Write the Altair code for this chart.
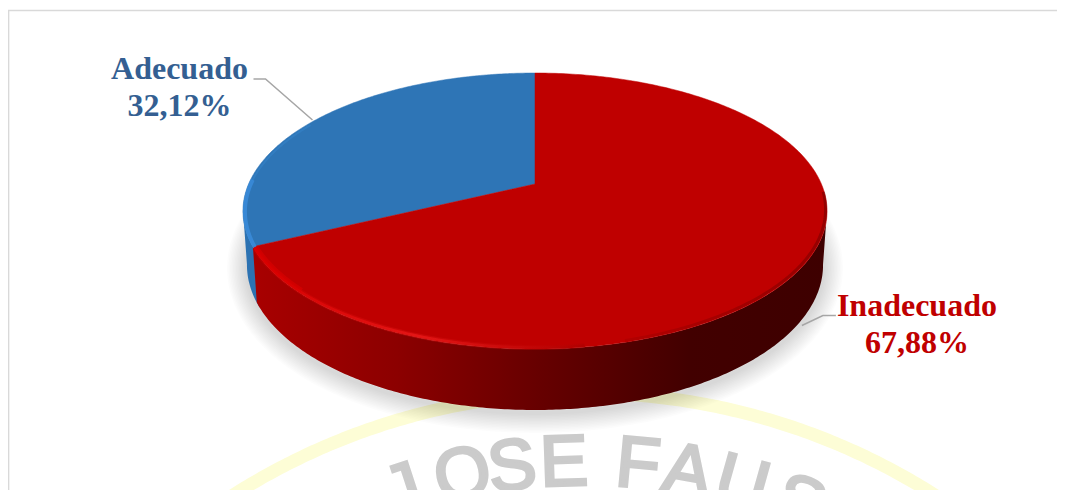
import numpy as np
import pandas as pd
import altair as alt

# ---- chart values ----
categories = ["Inadecuado", "Adecuado"]
shares = [67.88, 32.12]
share_labels = ["67,88%", "32,12%"]
label_colors = ["#c00000", "#345f92"]
slice_colors = ["#bf0000", "#2e75b6"]
watermark_letters = list("JOSE FAUS")
watermark_steps = [-184, -122, -72, -20, None, 54, 104, 160, 221]

# ---- projection of the tilted pie (pixel space of the page) ----
W, H = 1051, 482
CX, APEX_Y, K, A, P = 535.0, 184.0, 132.7, 286.4, 0.1957
ELL_CY, LOW_CY = 211.0, 265.0
LOW_XS, LOW_YS = 288.0 / 292.0, 145.0 / 138.0


def rim(deg):
    t = np.radians(np.asarray(deg, dtype=float))
    u, v = np.sin(t), np.cos(t)
    d = 1 + P * v
    return CX + A * u / d, APEX_Y - K * v / d


def low(x, y):
    return CX + (x - CX) * LOW_XS, LOW_CY + (y - ELL_CY) * LOW_YS


def frame(x, y):
    return pd.DataFrame({"x": x, "y": y, "i": np.arange(len(x))})


xs = alt.Scale(domain=[8, 8 + W], range=[0, W])
ys = alt.Scale(domain=[8, 8 + H], range=[0, H])
X = alt.X("x:Q", scale=xs, axis=None)
Y = alt.Y("y:Q", scale=ys, axis=None)
ORD = alt.Order("i:Q")


def path(df, **mark):
    return alt.Chart(df).mark_line(clip=True, **mark).encode(x=X, y=Y, order=ORD)


def arc_pts(a, b, n=160):
    return rim(np.linspace(a, b, n))


red_end = shares[0] / sum(shares) * 360

# top slices
rx, ry = arc_pts(0, red_end, 300)
red_top = frame(np.r_[CX, rx, CX], np.r_[APEX_Y, ry, APEX_Y])
bx, by = arc_pts(red_end, 360)
blue_top = frame(np.r_[CX, bx, CX], np.r_[APEX_Y, by, APEX_Y])

# walls
wx, wy = arc_pts(101, red_end, 240)
lx, ly = low(wx, wy)
red_wall = frame(np.r_[wx, lx[::-1]], np.r_[wy, ly[::-1]])
wx2, wy2 = arc_pts(red_end - 2, 259, 60)
lx2, ly2 = low(wx2, wy2)
blue_wall = frame(np.r_[wx2, lx2[::-1]], np.r_[wy2, ly2[::-1]])

# shadow outline
sx, sy = arc_pts(0, 360, 240)
slx, sly = low(sx, sy)
shadow = frame(slx, sly + 3)

# bevels
hx, hy = arc_pts(172, red_end - 1, 120)
red_bevel = frame(hx, hy - 1.5)
cx_, cy_ = arc_pts(225, red_end - 1, 60)
red_corner = frame(cx_ + 1.5, cy_ - 2.5)
dx_, dy_ = arc_pts(94, 165, 120)
dark_bevel = frame(dx_ - 1.5, dy_ - 1.5)
bbx, bby = arc_pts(red_end, 272, 100)
blue_bevel = frame(bbx + 2, bby + 0.5)
bcx, bcy = arc_pts(272, 300, 60)
blue_bevel_thin = frame(bcx + 1.5, bcy + 1.5)

# watermark ring
ring_cx, ring_cy, ring_r = 584.0, 1047.0, 654.0
ang = np.radians(np.linspace(-36, 36, 200))
ring = frame(ring_cx + ring_r * np.sin(ang), ring_cy - ring_r * np.cos(ang))

letter_r = 584.0
letters = pd.DataFrame(
    [
        {
            "ch": c,
            "x": ring_cx + letter_r * np.sin(s / letter_r),
            "y": ring_cy - letter_r * np.cos(s / letter_r),
            "rot": (np.degrees(s / letter_r)) % 360,
        }
        for c, s in zip(watermark_letters, watermark_steps)
        if s is not None
    ]
)

# labels, anchored on each slice's mid angle
mid_red = red_end / 2
mid_blue = red_end + (360 - red_end) / 2
ax_b, ay_b = rim(mid_blue)
rx_m, ry_m = rim(mid_red)
ax_r, ay_r = low(rx_m, ry_m)
leader_b = frame([ax_b - 3, ax_b - 50, ax_b - 62], [ay_b, ay_b - 41, ay_b - 41])
leader_r = frame([ax_r, ax_r + 21, ax_r + 34], [ay_r + 6, ay_r - 4, ay_r - 4])

label_rows = pd.DataFrame(
    {
        "text": [categories[1], share_labels[1], categories[0], share_labels[0]],
        "x": [ax_b - 136, ax_b - 136, ax_r + 115, ax_r + 115],
        "y": [ay_b - 41, ay_b - 4, ay_r - 3.5, ay_r + 33.5],
        "color": [label_colors[1], label_colors[1], label_colors[0], label_colors[0]],
    }
)


def label_layer(color):
    d = label_rows[label_rows.color == color]
    return (
        alt.Chart(d)
        .mark_text(
            font="Liberation Serif",
            fontWeight="bold",
            fontSize=32,
            align="center",
            baseline="alphabetic",
            color=color,
        )
        .encode(x=X, y=Y, text="text:N")
    )


wall_red_fill = alt.Gradient(
    gradient="linear",
    x1=0, x2=1, y1=0, y2=0,
    stops=[
        alt.GradientStop(offset=0.0, color="#a80000"),
        alt.GradientStop(offset=0.25, color="#8c0000"),
        alt.GradientStop(offset=0.5, color="#660000"),
        alt.GradientStop(offset=0.76, color="#420000"),
        alt.GradientStop(offset=1.0, color="#3e0000"),
    ],
)
bevel_red = alt.Gradient(
    gradient="linear",
    x1=0, x2=1, y1=0, y2=0,
    stops=[
        alt.GradientStop(offset=0.0, color="#d80000"),
        alt.GradientStop(offset=0.5, color="#e81818"),
        alt.GradientStop(offset=1.0, color="#b00000"),
    ],
)
bevel_dark = alt.Gradient(
    gradient="linear",
    x1=1, x2=0, y1=0, y2=0,
    stops=[
        alt.GradientStop(offset=0.0, color="#6a0000"),
        alt.GradientStop(offset=1.0, color="#a60000"),
    ],
)

layers = [
    alt.Chart(pd.DataFrame({"a": [0]})).mark_rule(color="#d9d9d9", strokeWidth=1.5).encode(
        x=alt.value(0.6), y=alt.value(2), y2=alt.value(H)
    ),
    alt.Chart(pd.DataFrame({"a": [0]})).mark_rule(color="#d9d9d9", strokeWidth=1.5).encode(
        x=alt.value(0), x2=alt.value(W - 2), y=alt.value(2.6)
    ),
    path(ring, color="#fdfdd6", strokeWidth=13),
    alt.Chart(letters)
    .mark_text(
        font="Liberation Sans",
        fontSize=72,
        color="#cbcbcb",
        stroke="#cbcbcb",
        strokeWidth=3,
        clip=True,
        align="center",
        baseline="middle",
    )
    .encode(x=X, y=Y, text="ch:N", angle=alt.Angle("rot:Q", scale=None)),
]
for w in range(40, 2, -3):
    layers.append(path(shadow, color="#000000", strokeWidth=w, opacity=0.012))
layers += [
    path(blue_wall, color="#2c72b2", fill="#2c72b2", strokeWidth=0),
    path(red_wall, color="#600000", fill=wall_red_fill, strokeWidth=0),
    path(blue_top, color=slice_colors[1], fill=slice_colors[1], strokeWidth=0.5),
    path(red_top, color=slice_colors[0], fill=slice_colors[0], strokeWidth=0.5),
    path(blue_bevel, color="#3a8bd8", strokeWidth=4, opacity=0.9),
    path(blue_bevel_thin, color="#3a8bd8", strokeWidth=2, opacity=0.35),
    path(dark_bevel, stroke=bevel_dark, strokeWidth=3, opacity=0.5),
    path(red_bevel, stroke=bevel_red, strokeWidth=5, opacity=0.3),
    path(red_bevel, stroke=bevel_red, strokeWidth=2.5, opacity=0.85),
    path(red_corner, color="#dc0000", strokeWidth=5, opacity=0.6),
    path(leader_b, color="#a6a6a6", strokeWidth=1.5),
    path(leader_r, color="#a6a6a6", strokeWidth=1.5),
    label_layer(label_colors[1]),
    label_layer(label_colors[0]),
]

chart = (
    alt.layer(*layers)
    .properties(
        width=W,
        height=H,
        padding=0,
        autosize=alt.AutoSizeParams(type="none"),
        background="white",
    )
    .configure_view(stroke=None)
)

chart.save("out.html", embed_options={"renderer": "svg", "actions": False})
